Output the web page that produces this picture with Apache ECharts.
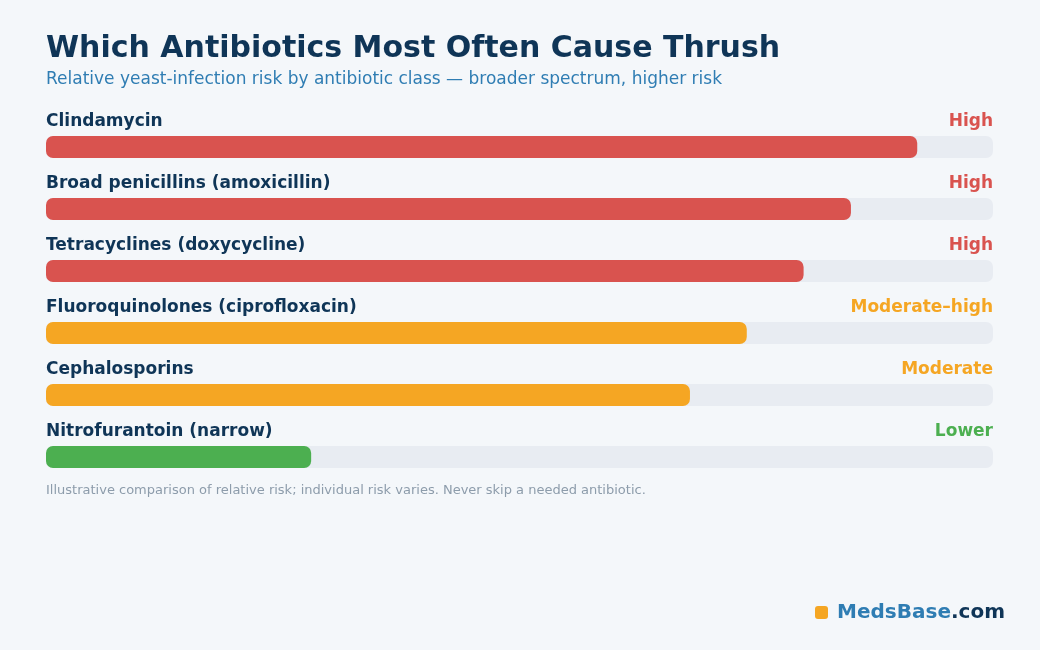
<!DOCTYPE html>
<html>
<head>
<meta charset="utf-8">
<script src="https://cdn.jsdelivr.net/npm/echarts@6/dist/echarts.min.js"></script>
<style>
  html, body { margin: 0; padding: 0; background: #f4f7fa; }
  #chart { width: 1040px; height: 650px; }
</style>
</head>
<body>
<div id="chart"></div>
<script>
// data
const categories = [
  'Clindamycin',
  'Broad penicillins (amoxicillin)',
  'Tetracyclines (doxycycline)',
  'Fluoroquinolones (ciprofloxacin)',
  'Cephalosporins',
  'Nitrofurantoin (narrow)'
];
const riskValues = [92, 85, 80, 74, 68, 28];
const riskLabels = ['High', 'High', 'High', 'Moderate–high', 'Moderate', 'Lower'];
const trackMax = [100, 100, 100, 100, 100, 100];

const riskColors = {
  'High': '#d9534f',
  'Moderate–high': '#f5a623',
  'Moderate': '#f5a623',
  'Lower': '#4caf50'
};

const FONT = '"DejaVu Sans", sans-serif';
const chart = echarts.init(document.getElementById('chart'));

chart.setOption({
  backgroundColor: '#f4f7fa',
  animation: false,
  title: {
    text: 'Which Antibiotics Most Often Cause Thrush',
    subtext: 'Relative yeast-infection risk by antibiotic class — broader spectrum, higher risk',
    left: 41,
    top: 29,
    itemGap: 7,
    textStyle: { color: '#0f3557', fontSize: 30, fontWeight: 'bold', fontFamily: FONT },
    subtextStyle: { color: '#2f7db3', fontSize: 17, fontFamily: FONT }
  },
  grid: { left: 46, right: 47, top: 116, height: 372 },
  xAxis: { type: 'value', min: 0, max: 100, show: false },
  yAxis: {
    type: 'category',
    data: categories,
    inverse: true,
    show: false
  },
  series: [
    {
      // grey track with the risk word on the right
      type: 'bar',
      data: trackMax.map((v, i) => ({
        value: v,
        label: { color: riskColors[riskLabels[i]] }
      })),
      barWidth: 22,
      silent: true,
      itemStyle: { color: '#e8ecf2', borderRadius: 7 },
      label: {
        show: true,
        position: ['100%', -14],
        align: 'right',
        verticalAlign: 'middle',
        fontFamily: FONT,
        fontSize: 17,
        fontWeight: 'bold',
        formatter: p => riskLabels[p.dataIndex]
      },
      z: 1
    },
    {
      type: 'bar',
      data: riskValues.map((v, i) => ({
        value: v,
        itemStyle: { color: riskColors[riskLabels[i]] }
      })),
      barWidth: 22,
      barGap: '-100%',
      itemStyle: { borderRadius: 7 },
      label: {
        show: true,
        position: [0, -14],
        align: 'left',
        verticalAlign: 'middle',
        color: '#0f3557',
        fontFamily: FONT,
        fontSize: 17,
        fontWeight: 'bold',
        formatter: p => categories[p.dataIndex]
      },
      z: 2
    }
  ],
  graphic: [
    {
      type: 'text',
      left: 46,
      top: 484,
      style: {
        text: 'Illustrative comparison of relative risk; individual risk varies. Never skip a needed antibiotic.',
        fill: '#8d9cab',
        font: '13px "DejaVu Sans", sans-serif'
      }
    },
    {
      type: 'rect',
      left: 815,
      top: 606,
      shape: { width: 13, height: 13, r: 3 },
      style: { fill: '#f5a623' }
    },
    {
      type: 'text',
      right: 35,
      top: 603,
      style: {
        text: '{a|MedsBase}{b|.com}',
        rich: {
          a: { fill: '#2f7db3', font: 'bold 20px "DejaVu Sans", sans-serif' },
          b: { fill: '#0f3557', font: 'bold 20px "DejaVu Sans", sans-serif' }
        }
      }
    }
  ]
});
</script>
</body>
</html>
